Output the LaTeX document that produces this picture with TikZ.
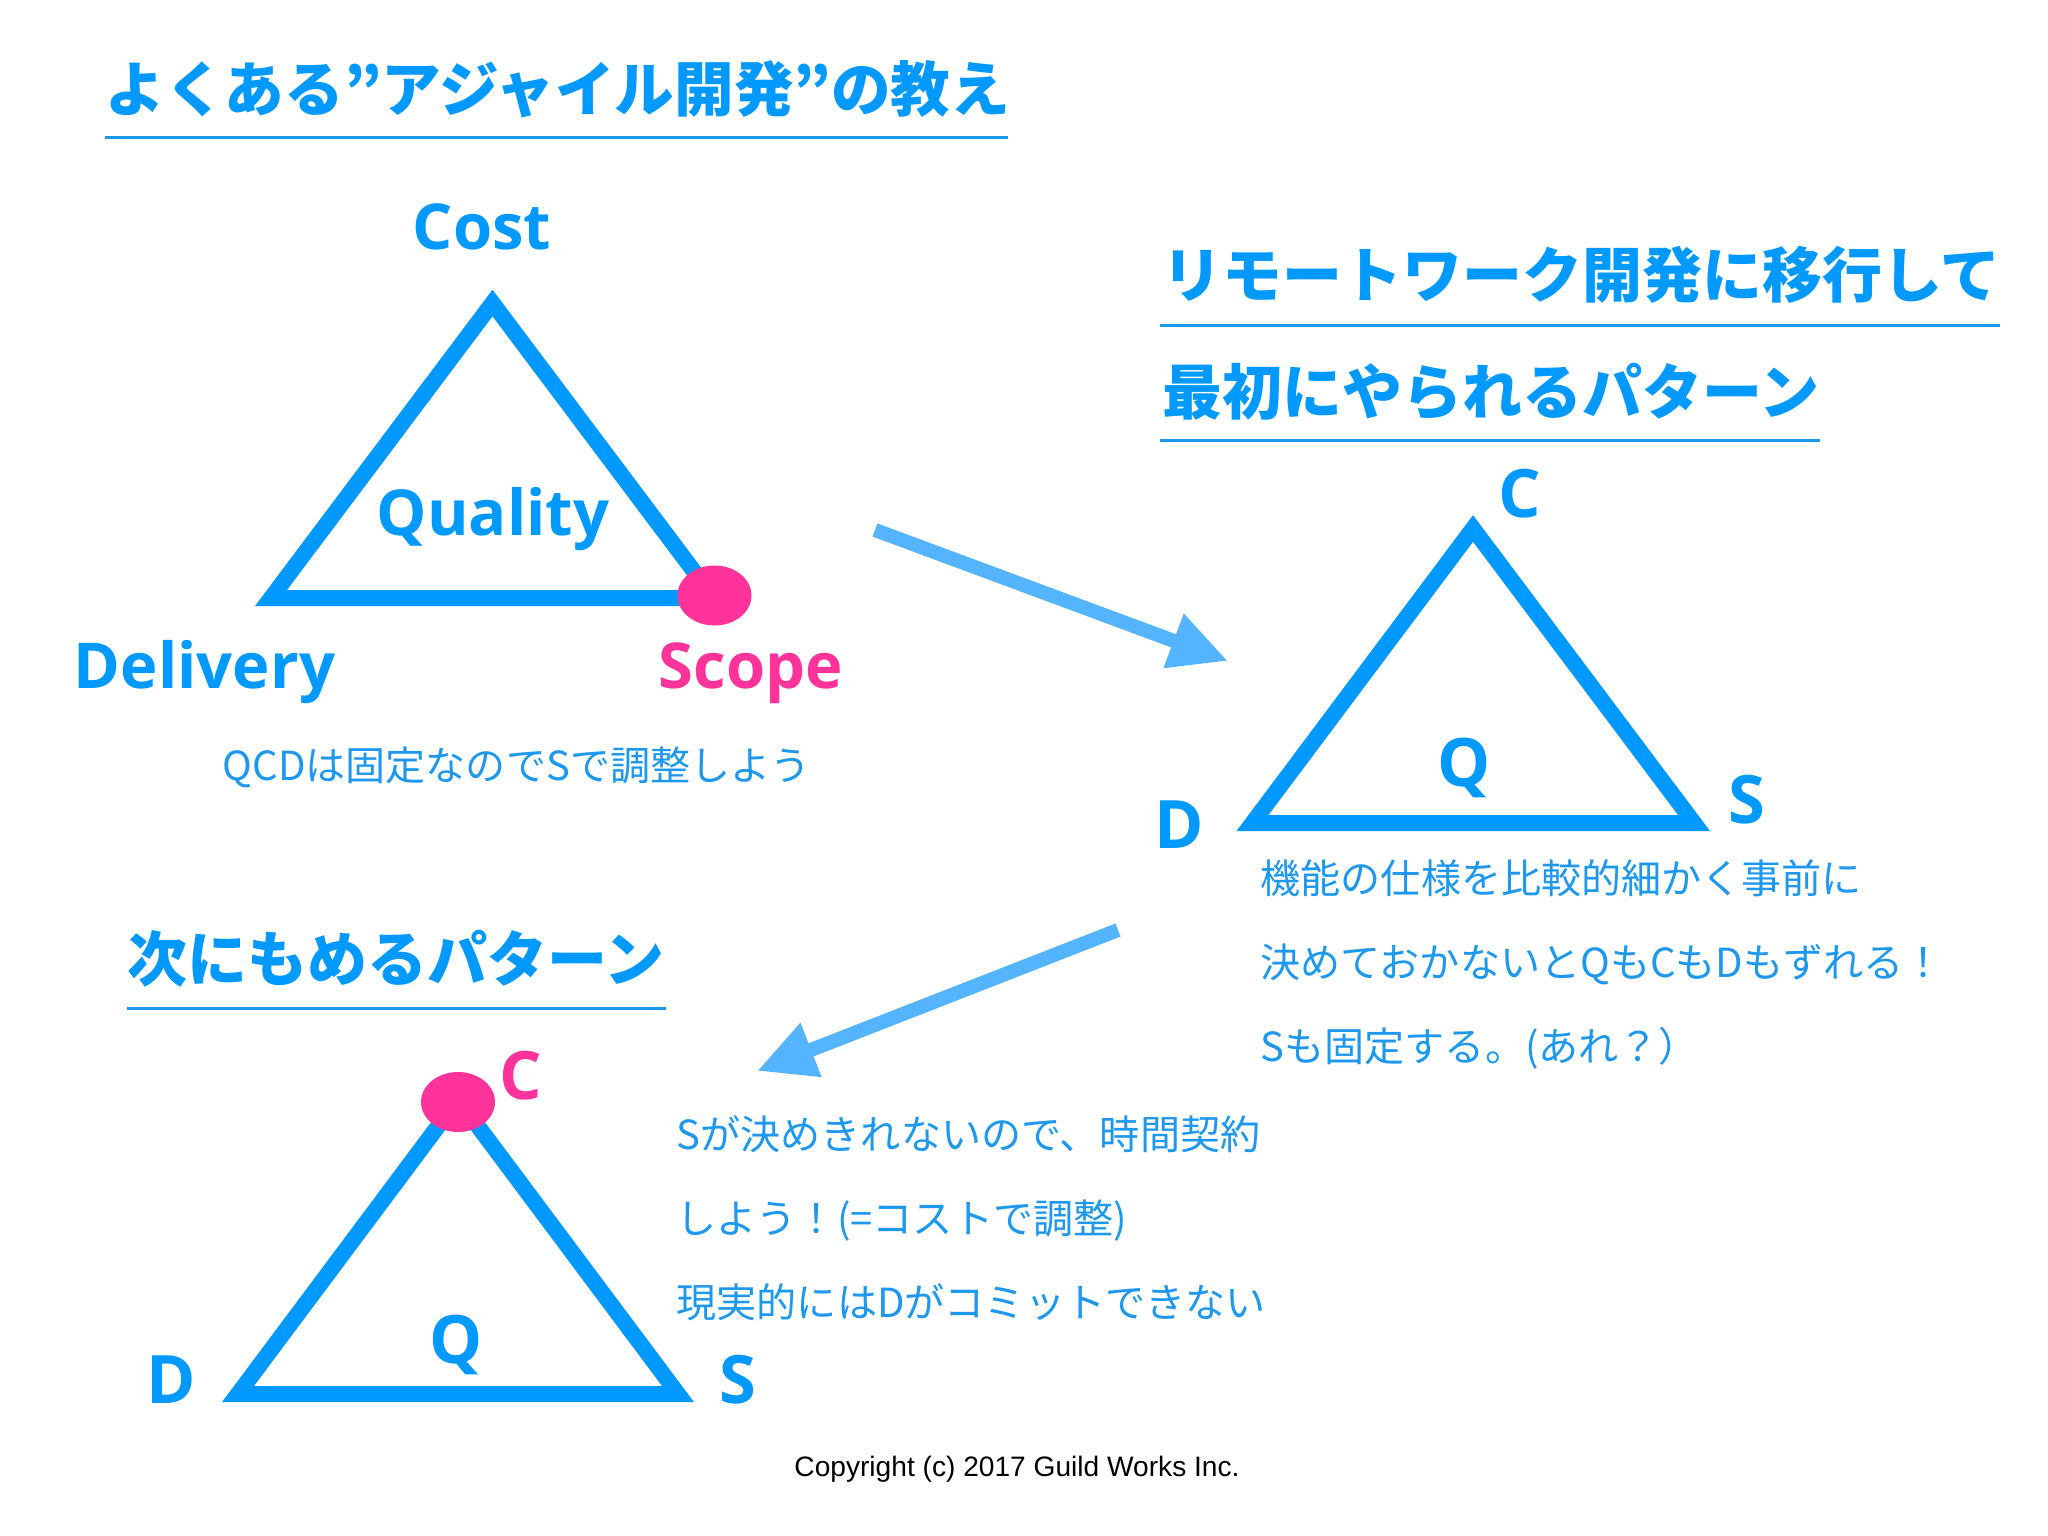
\documentclass[tikz,border=0pt]{standalone}
\usepackage{fontspec}
\setmainfont{Noto Sans CJK JP}
\newfontfamily\latinfont{Open Sans}
\usetikzlibrary{arrows.meta}
\definecolor{mainblue}{HTML}{0099FF}
\definecolor{arrowblue}{HTML}{55B4FF}
\definecolor{bodyblue}{HTML}{1E98EE}
\definecolor{hotpink}{HTML}{FF3399}
\tikzset{
  title/.style={anchor=base west,inner sep=0pt,text=mainblue,font=\fontsize{17.05pt}{20pt}\selectfont\bfseries},
  body/.style={anchor=base west,inner sep=0pt,text=bodyblue,font=\fontsize{11.4pt}{14pt}\selectfont},
  corner/.style={anchor=base,inner sep=0pt,text=mainblue,font=\fontsize{19pt}{22pt}\selectfont\latinfont\bfseries},
  word/.style={corner,font=\fontsize{18pt}{22pt}\selectfont\latinfont\bfseries},
  rule/.style={draw=bodyblue,line width=0.03cm},
  qcd/.style={draw=mainblue,line width=0.16cm,miter limit=10},
  flow/.style={draw=arrowblue,line width=0.14cm,-{Triangle[length=0.58cm,width=0.54cm,fill=arrowblue]}},
  spot/.style={fill=hotpink,draw=none}
}
\begin{document}
\begin{tikzpicture}[x=0.01cm,y=-0.01cm]
    \useasboundingbox (0,0) rectangle (2048,1536);
    % first picture
    \node[title,font=\fontsize{16.95pt}{20pt}\selectfont\bfseries] (titleA) at (105,111) {よくある”アジャイル開発”の教え};
    \draw[rule] (105,137) coordinate (ruleAa) -- (1008,137) coordinate (ruleAb);
    \coordinate (costA) at (492.5,303);
    \coordinate (deliveryA) at (271,598);
    \coordinate (scopeA) at (714,598);
    \draw[qcd] (costA) -- (deliveryA) -- (scopeA) -- cycle;
    \fill[spot] (714.5,595.5) ellipse [x radius=37,y radius=30];
    \node[word] (cost) at (482,249) {Cost};
    \node[word] (quality) at (493,535) {Quality};
    \node[word] (delivery) at (204.5,688) {Delivery};
    \node[word,text=hotpink] (scope) at (751,688) {Scope};
    \node[body] (noteA) at (222,780) {QCDは固定なのでSで調整しよう};
    % second picture
    \node[title] (titleBa) at (1162,297) {リモートワーク開発に移行して};
    \draw[rule] (1160,325) coordinate (ruleBa) -- (2000,325) coordinate (ruleBb);
    \node[title] (titleBb) at (1162,414) {最初にやられるパターン};
    \draw[rule] (1160,440) coordinate (ruleCa) -- (1820,440) coordinate (ruleCb);
    \coordinate (costB) at (1473,528.5);
    \coordinate (deliveryB) at (1252.5,823);
    \coordinate (scopeB) at (1694,823);
    \draw[qcd] (costB) -- (deliveryB) -- (scopeB) -- cycle;
    \node[corner] (cB) at (1520,517) {C};
    \node[corner] (qB) at (1464,786) {Q};
    \node[corner] (sB) at (1746.5,823) {S};
    \node[corner] (dB) at (1179,848) {D};
    \node[body] (noteBa) at (1260,893.5) {機能の仕様を比較的細かく事前に};
    \node[body] (noteBb) at (1260,977.5) {決めておかないとQもCもDもずれる！};
    \node[body] (noteBc) at (1260,1061.5) {Sも固定する。(あれ？）};
    % third picture
    \node[title] (titleC) at (127,981) {次にもめるパターン};
    \draw[rule] (127,1008) coordinate (ruleDa) -- (666,1008) coordinate (ruleDb);
    \coordinate (costC) at (458,1099.5);
    \coordinate (deliveryC) at (238,1394);
    \coordinate (scopeC) at (678,1394);
    \draw[qcd] (costC) -- (deliveryC) -- (scopeC) -- cycle;
    \fill[spot] (458,1102) ellipse [x radius=37,y radius=30];
    \node[corner,text=hotpink] (cC) at (521,1099) {C};
    \node[corner] (qC) at (456,1363.5) {Q};
    \node[corner] (dC) at (171,1403) {D};
    \node[corner] (sC) at (738,1403) {S};
    \node[body] (noteCa) at (676,1149.5) {Sが決めきれないので、時間契約};
    \node[body] (noteCb) at (676,1233.5) {しよう！(=コストで調整)};
    \node[body] (noteCc) at (676,1317.5) {現実的にはDがコミットできない};
    % arrows
    \coordinate (flowAa) at (875,530);
    \coordinate (flowAb) at (1228,661);
    \draw[flow] (flowAa) -- (flowAb);
    \coordinate (flowBa) at (1118,930);
    \coordinate (flowBb) at (757,1071);
    \draw[flow] (flowBa) -- (flowBb);
    \node[anchor=base,inner sep=0pt,font=\fontsize{8pt}{10pt}\selectfont,text=black] (copyright) at (1017,1476)
      {\fontspec{Liberation Sans}Copyright (c) 2017 Guild Works Inc.};
\end{tikzpicture}
\end{document}
